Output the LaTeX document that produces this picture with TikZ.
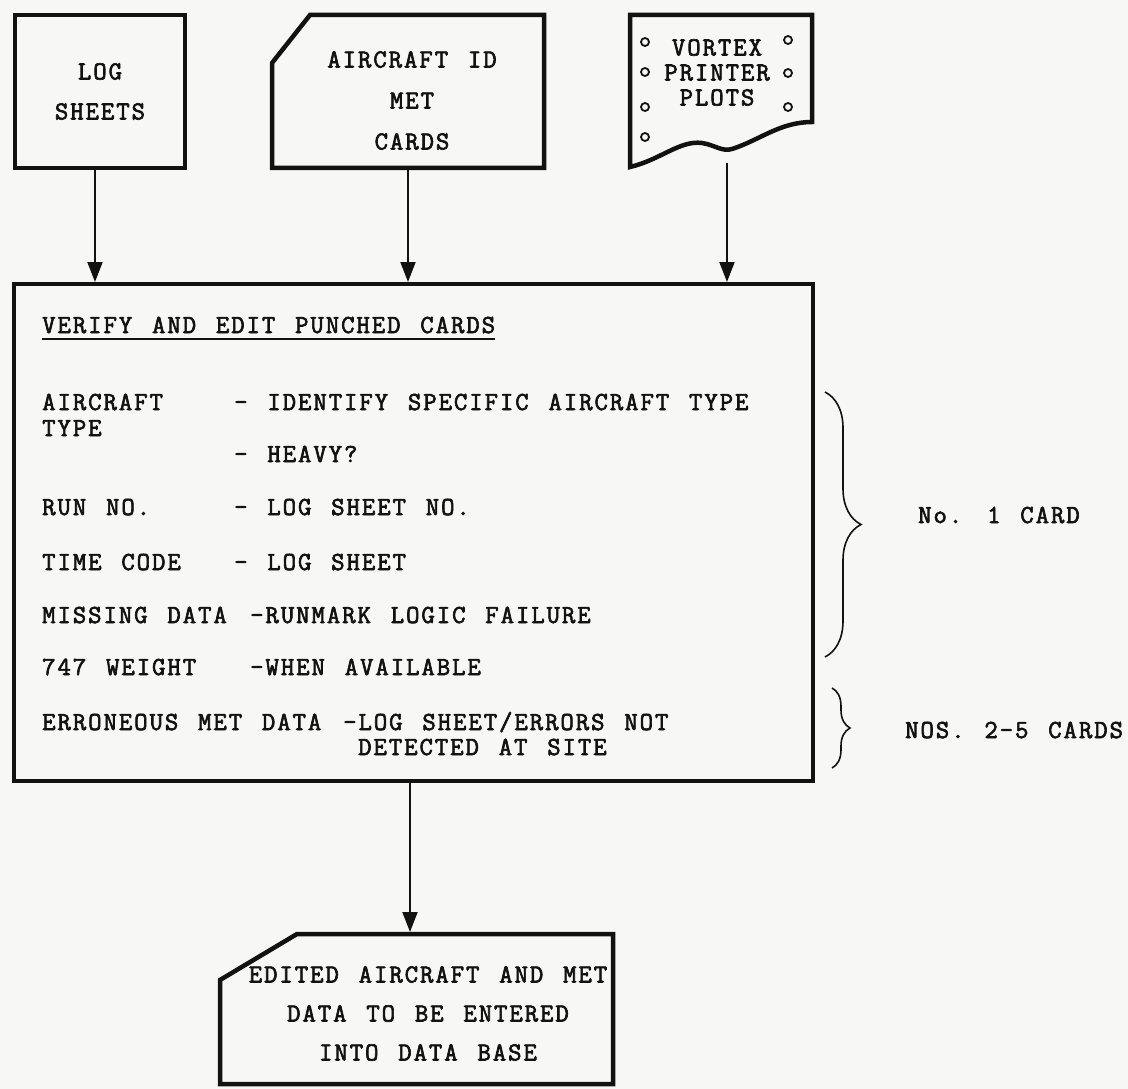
\documentclass[tikz,border=0pt]{standalone}
\usepackage{fontspec}
\usetikzlibrary{arrows.meta,decorations.pathreplacing}
\newfontfamily\typewr{Latin Modern Mono}[LetterSpace=7.5,WordSpace=1.29,FakeBold=2.5]
\newcommand{\twsize}[1]{\typewr\fontsize{26pt}{#1}\selectfont}
\definecolor{paper}{RGB}{247,247,245}
\definecolor{ink}{RGB}{18,18,18}

\begin{document}
\begin{tikzpicture}[
  x=1pt, y=-1pt,
  frame/.style={draw=ink,line width=4.5pt},
  hold/.style={inner sep=0pt,outer sep=0pt},
  lbl/.style={inner sep=0pt,align=center,text=ink},
  row/.style={inner sep=0pt,anchor=base west,font=\twsize{30pt},text=ink},
  arrow/.style={-{Triangle[length=20pt,width=15pt]},line width=2pt,draw=ink,
    shorten >=2pt},
  hole/.style={draw=ink,line width=1.8pt},
  brc/.style={decorate,decoration={brace,amplitude=#1},draw=ink,
    line width=1.6pt}
]
  \useasboundingbox (0,0) rectangle (1128,1089);
  \fill[paper] (0,0) rectangle (1128,1089);

  % source documents
  \node[hold,frame,minimum width=170pt,minimum height=153pt,lbl,
    font=\twsize{40pt}] (log) at (100,91.5) {LOG\\SHEETS};

  \node[hold,minimum width=272pt,minimum height=153pt] (cards) at (408,91.5) {};
  \draw[frame] ([yshift=-48pt]cards.north west) -- ([xshift=38pt]cards.north west)
    -- (cards.north east) -- (cards.south east) -- (cards.south west) -- cycle;
  \node[lbl,font=\twsize{41pt}] (cardsLbl) at (412,100.5)
    {AIRCRAFT ID\\MET\\CARDS};

  \node[hold,minimum width=182pt,minimum height=152pt] (plots) at (721,91) {};
  \draw[frame] (plots.south west) -- (plots.north west) -- (plots.north east)
    -- ([yshift=-107pt]plots.north east)
    .. controls (780,122) and (760,140) .. (732,149)
    .. controls (722,152) and (715,145) .. (702,143)
    .. controls (680,140) and (660,160) .. cycle;
  \node[lbl,font=\twsize{25pt}] (plotsLbl) at (717,72.5)
    {VORTEX\\PRINTER\\PLOTS};
  \foreach \y in {42,72,107,137}
    \draw[hole] (645,\y) circle (4pt);
  \foreach \y in {40,73,107}
    \draw[hole] (788,\y) circle (4pt);
  \coordinate (plotsfoot) at (727,163);

  % verify box
  \node[hold,frame,minimum width=799pt,minimum height=497pt] (verify)
    at (413.5,532.5) {};
  \node[row] (head) at (42,333) {VERIFY AND EDIT PUNCHED CARDS};
  \draw[ink,line width=2pt] ([yshift=-6pt]head.base west)
    -- ([yshift=-6pt]head.base east);

  \node[row] (actype) at (42,410) {AIRCRAFT};
  \node[row] (actype2) at (42,436) {TYPE};
  \node[row] (acid) at (234,410) {- IDENTIFY SPECIFIC AIRCRAFT TYPE};
  \node[row] (heavy) at (234,462) {- HEAVY?};
  \node[row] (runno) at (42,515) {RUN NO.};
  \node[row] (runlog) at (234,515) {- LOG SHEET NO.};
  \node[row] (tcode) at (42,570) {TIME CODE};
  \node[row] (tlog) at (234,570) {- LOG SHEET};
  \node[row] (miss) at (42,623) {MISSING DATA};
  \node[row] (missfail) at (250,623) {-RUNMARK LOGIC FAILURE};
  \node[row] (wt) at (42,675) {747 WEIGHT};
  \node[row] (wtavail) at (250,675) {-WHEN AVAILABLE};
  \node[row] (err) at (42,730) {ERRONEOUS MET DATA};
  \node[row] (errlog) at (343,730) {-LOG SHEET/ERRORS NOT};
  \node[row] (errsite) at (358,755) {DETECTED AT SITE};

  % card groups
  \draw[brc=36pt] (825,392) -- (825,657);
  \draw[brc=18pt] (832,688) -- (832,768);
  \node[row] (card1) at (918,523) {No. 1 CARD};
  \node[row] (card25) at (905,738) {NOS. 2-5 CARDS};

  % output
  \node[hold,minimum width=393pt,minimum height=150pt] (edited) at (416.5,1009) {};
  \draw[frame] ([yshift=-46pt]edited.north west) -- ([xshift=77pt]edited.north west)
    -- (edited.north east) -- (edited.south east) -- (edited.south west) -- cycle;
  \node[lbl,font=\twsize{39pt}] (editedLbl) at (428,1013.5)
    {EDITED AIRCRAFT AND MET\\DATA TO BE ENTERED\\INTO DATA BASE};

  \draw[arrow] ([xshift=-5pt]log.south) -- ([xshift=-5pt]log.south |- verify.north);
  \draw[arrow] (cards.south) -- (cards.south |- verify.north);
  \draw[arrow] (plotsfoot) -- (plotsfoot |- verify.north);
  \draw[arrow] ([xshift=-3.5pt]verify.south)
    -- ([xshift=-3.5pt]verify.south |- edited.north);
\end{tikzpicture}
\end{document}
